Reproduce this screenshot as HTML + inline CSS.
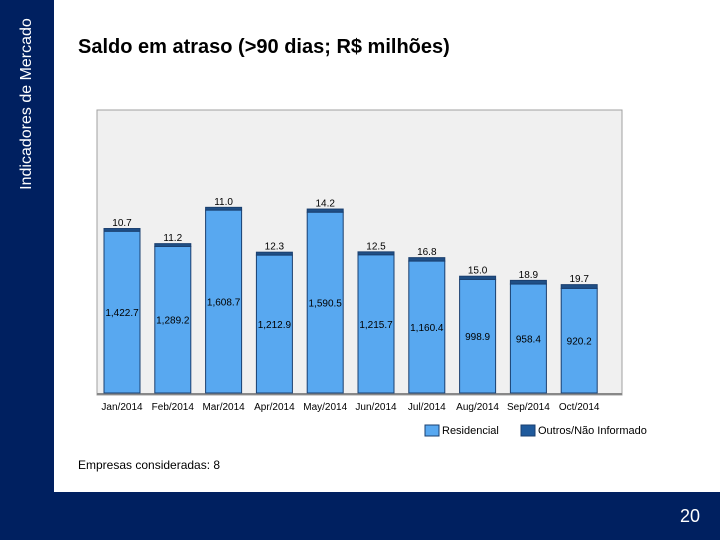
<!DOCTYPE html>
<html style="width:720px;height:540px;overflow:hidden"><head><meta charset="utf-8"><style>
html,body{margin:0;width:720px;height:540px;overflow:hidden;background:#fff;font-family:"Liberation Sans",sans-serif}
body{position:relative}
#side{position:absolute;left:0;top:0;width:54px;height:540px;background:#002060}
#sidetxt{position:absolute;left:27px;top:104px;transform:translate(-50%,-50%) rotate(-90deg);color:#fff;font-size:16px;white-space:nowrap}
#bottom{position:absolute;left:0;top:492px;width:720px;height:48px;background:#002060}
#pg{position:absolute;right:20px;top:14px;color:#fff;font-size:18px}
#title{position:absolute;left:78px;top:36px;font-size:20px;font-weight:bold;color:#000}
#note{position:absolute;left:78px;top:458px;font-size:12px}
</style></head><body>
<div id="side"><div id="sidetxt">Indicadores de Mercado</div></div>
<div id="title">Saldo em atraso (&gt;90 dias; R$ milhões)</div>
<svg id="chart" width="720" height="490" style="position:absolute;left:0;top:0"></svg>
<div id="note">Empresas consideradas: 8</div>
<div id="bottom"><div id="pg">20</div></div>
<script>
const categories=["Jan/2014","Feb/2014","Mar/2014","Apr/2014","May/2014","Jun/2014","Jul/2014","Aug/2014","Sep/2014","Oct/2014"];
const residencial=[1422.7,1289.2,1608.7,1212.9,1590.5,1215.7,1160.4,998.9,958.4,920.2];
const outros=[10.7,11.2,11.0,12.3,14.2,12.5,16.8,15.0,18.9,19.7];
const svg=document.getElementById('chart');
const NS='http://www.w3.org/2000/svg';
function el(t,a){const e=document.createElementNS(NS,t);for(const k in a)e.setAttribute(k,a[k]);svg.appendChild(e);return e;}
const base=393, scale=0.1137;
function y(v){return base-v*scale;}
function xs(i){return 104+i*50.8;}
const bw=36;
const bg=el('rect',{x:97,y:110,width:525,height:285,fill:'#f0f0f0',stroke:'#a0a0a0','stroke-width':1});


const ax=el('line',{x1:97,y1:394,x2:622,y2:394,stroke:'#888','stroke-width':2});


categories.forEach((c,i)=>{
  const x=xs(i);
  const r=el('rect',{x:x,y:y(residencial[i]),width:bw,height:base-y(residencial[i]),fill:'#58a8f0',stroke:'#1a3f6f','stroke-width':1});
  
  
  const top=y(residencial[i]+outros[i]);
  const o=el('rect',{x:x,y:top-1.5,width:bw,height:y(residencial[i])-top+1.5,fill:'#1f4f86',stroke:'#1a3f6f','stroke-width':1});
  
  
  const t1=el('text',{x:x+bw/2,y:top-4,'font-size':10,'text-anchor':'middle'});t1.textContent=outros[i].toFixed(1);
  
  
  const t2=el('text',{x:x+bw/2,y:(base+y(residencial[i]))/2+4,'font-size':10,'text-anchor':'middle'});t2.textContent=residencial[i].toLocaleString('en-US',{minimumFractionDigits:1,maximumFractionDigits:1});
  
  
  const t3=el('text',{x:x+bw/2,y:410,'font-size':10,'text-anchor':'middle'});t3.textContent=c;
  
  
});
const l1=el('rect',{x:425,y:425,width:14,height:11,fill:'#58a8f0',stroke:'#1a3f6f'});


const lt1=el('text',{x:442,y:434,'font-size':11});lt1.textContent='Residencial';


const l2=el('rect',{x:521,y:425,width:14,height:11,fill:'#1f5a9c',stroke:'#1a3f6f'});


const lt2=el('text',{x:538,y:434,'font-size':11});lt2.textContent='Outros/Não Informado';


</script>
</body></html>
